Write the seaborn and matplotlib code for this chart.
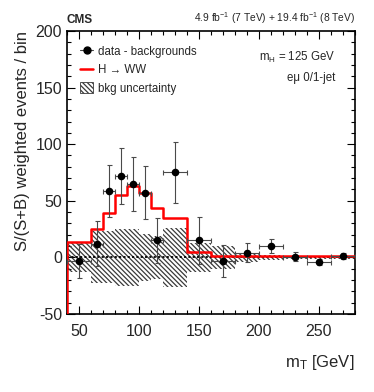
import numpy as np
import seaborn as sns
import matplotlib
matplotlib.use("Agg")
import matplotlib.pyplot as plt
from matplotlib.lines import Line2D
from matplotlib.patches import Patch

# bin edges in mT [GeV]
bin_edges = [40, 60, 70, 80, 90, 100, 110, 120, 140, 160, 180, 200, 220, 240, 260, 280]

# data - backgrounds (S/(S+B) weighted)
data_vals = [-3, 12, 58.8, 72, 64.7, 57.3, 15, 75, 15, -3, 4.3, 10.2, 0.5, -4, 1]
data_errs = [15, 20, 23, 25, 24, 23, 20, 27, 21, 14, 8.5, 6, 4, 2.5, 2.5]

# H -> WW expectation
signal_vals = [13.4, 25.3, 39.5, 55, 63, 57, 43.7, 34.8, 4.5, 1.6, 1.5, 1.5, 1.4, 1.3, 1.3]

# background uncertainty half width
bkg_unc = [13, 23, 23, 25, 25, 21, 19, 26, 13, 10, 4, 2.5, 1.5, 1.2, 1.2]

edges = np.array(bin_edges, dtype=float)
centers = 0.5 * (edges[1:] + edges[:-1])
widths = np.diff(edges)
unc = np.array(bkg_unc)

HATCH = '\\' * 7

sns.set_style("ticks")
plt.rcParams['font.family'] = ['Liberation Sans', 'DejaVu Sans']
plt.rcParams['hatch.linewidth'] = 0.9
plt.rcParams['axes.unicode_minus'] = False
plt.rcParams['mathtext.fontset'] = 'custom'
plt.rcParams['mathtext.rm'] = 'Liberation Sans'
plt.rcParams['mathtext.it'] = 'Liberation Sans'

fig = plt.figure(figsize=(3.74, 3.92), dpi=100)
ax = fig.add_axes([0.179, 0.199, 0.770, 0.722])

# bkg uncertainty band
ax.bar(centers, 2 * unc, bottom=-unc, width=widths, fill=False, hatch=HATCH,
       edgecolor='#3a3a3a', linewidth=0, zorder=1)

# zero line
ax.axhline(0, color='black', lw=1.3, ls=(0, (1.2, 1.2)), zorder=2)

# signal histogram
sig_ext = list(signal_vals) + [signal_vals[-1]]
sns.lineplot(x=edges, y=sig_ext, drawstyle='steps-post', color='red', lw=1.8,
             ax=ax, zorder=3)
ax.vlines(edges[0], -50, signal_vals[0], color='red', lw=1.8, zorder=3)

# data points
ax.errorbar(centers, data_vals, yerr=data_errs, xerr=widths / 2, fmt='none',
            ecolor='#4a4a4a', elinewidth=0.8, capsize=1.8, capthick=0.8, zorder=4)
sns.scatterplot(x=centers, y=data_vals, color='black', s=30, edgecolor='black',
                linewidth=0, ax=ax, zorder=5)

ax.set_xlim(40, 280)
ax.set_ylim(-50, 200)
ax.set_xticks([50, 100, 150, 200, 250])
ax.set_yticks([-50, 0, 50, 100, 150, 200])
ax.xaxis.set_minor_locator(matplotlib.ticker.MultipleLocator(10))
ax.yaxis.set_minor_locator(matplotlib.ticker.MultipleLocator(10))
ax.tick_params(which='both', direction='in', top=True, right=True, width=0.8,
               labelsize=11.5, color='black')
ax.tick_params(which='major', length=6)
ax.tick_params(which='minor', length=3)
ax.tick_params(axis='x', pad=7)
ax.tick_params(axis='y', pad=3.5)
for sp in ax.spines.values():
    sp.set_linewidth(1.2)
    sp.set_color('black')

ax.set_xlabel(r'm$_\mathregular{T}$ [GeV]', fontsize=12, loc='right', labelpad=10)
ax.set_ylabel('S/(S+B) weighted events / bin', fontsize=12, loc='top', labelpad=4)

# legend
handles = [
    Line2D([], [], color='#4a4a4a', lw=0.8, marker='o', markersize=5,
           markerfacecolor='black', markeredgecolor='black'),
    Line2D([], [], color='red', lw=1.8),
    Patch(facecolor='white', edgecolor='#3a3a3a', hatch=HATCH, lw=0.6),
]
labels = ['data - backgrounds', 'H → WW', 'bkg uncertainty']
ax.legend(handles, labels, loc='upper left', bbox_to_anchor=(0.045, 0.948),
          frameon=False, fontsize=8.3, handlelength=1.15, handleheight=1.1,
          handletextpad=0.45, labelspacing=0.5, borderpad=0, borderaxespad=0)

ax.text(0.931, 0.908, r'm$_\mathregular{H}$ = 125 GeV', transform=ax.transAxes,
        ha='right', va='center', fontsize=8.3)
ax.text(0.931, 0.834, 'eμ 0/1-jet', transform=ax.transAxes,
        ha='right', va='center', fontsize=8.3)

ax.text(0.0, 1.018, 'CMS', transform=ax.transAxes, ha='left', va='bottom',
        fontsize=8.5, fontweight='bold')
ax.text(1.0, 1.018, r'4.9 fb$^{\mathregular{-1}}$ (7 TeV) + 19.4 fb$^{\mathregular{-1}}$ (8 TeV)',
        transform=ax.transAxes, ha='right', va='bottom', fontsize=7.4)

fig.savefig('out.png', dpi=100)
